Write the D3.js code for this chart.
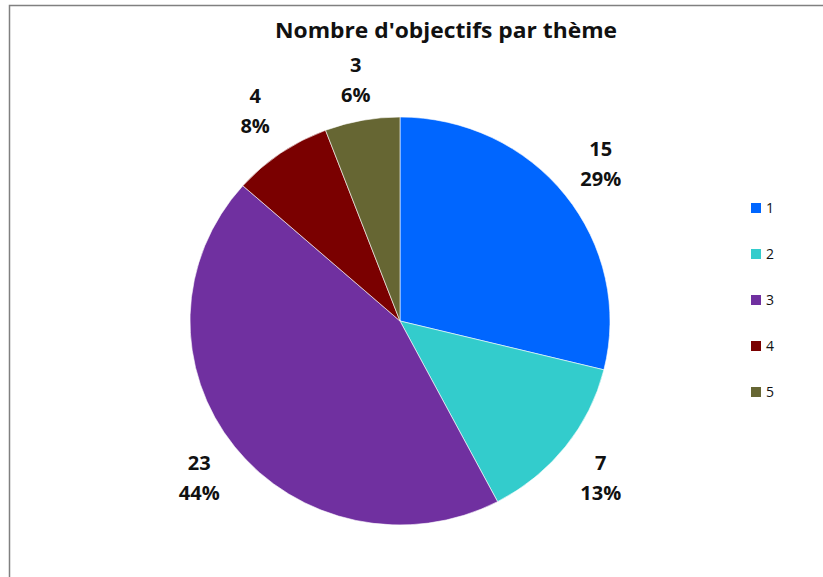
<!DOCTYPE html>
<html>
<head>
<meta charset="utf-8">
<script src="https://cdn.jsdelivr.net/npm/d3@7"></script>
<style>
  body { margin: 0; background: #fff; }
  text { font-family: "Open Sans", "Noto Sans", sans-serif; }
</style>
</head>
<body>
<svg id="chartSvg" width="823" height="577"></svg>
<script>
// Chart data
const themes = ["1", "2", "3", "4", "5"];
const counts = [15, 7, 23, 4, 3];
const colors = ["#0066ff", "#33cccc", "#7030a0", "#7a0000", "#666633"];

const svg = d3.select("#chartSvg");

// Outer frame
svg.append("rect")
    .attr("x", 9.5).attr("y", 5.5)
    .attr("width", 830).attr("height", 600)
    .attr("fill", "none")
    .attr("stroke", "#808080")
    .attr("stroke-width", 1.5);

// Title
svg.append("text")
    .attr("x", 446).attr("y", 38)
    .attr("text-anchor", "middle")
    .attr("font-size", "21px")
    .attr("font-weight", "bold")
    .attr("fill", "#111")
    .attr("textLength", 342)
    .attr("lengthAdjust", "spacingAndGlyphs")
    .text("Nombre d'objectifs par thème");

const total = d3.sum(counts);
const cx = 400, cy = 321, r = 210;

const pie = d3.pie().sort(null).value(d => d.value);
const arcs = pie(themes.map((t, i) => ({ theme: t, value: counts[i], color: colors[i] })));
const arc = d3.arc().innerRadius(0).outerRadius(r);
const labelArc = d3.arc().innerRadius(255).outerRadius(255);
// the label near the top sits a bit closer so it clears the title
const topLabelArc = d3.arc().innerRadius(245).outerRadius(245);

// Pie slightly flattened vertically, like the original
const pieG = svg.append("g")
    .attr("transform", `translate(${cx}, ${cy}) scale(1, ${204 / 210})`);

pieG.selectAll("path")
    .data(arcs)
    .enter()
    .append("path")
    .attr("d", arc)
    .attr("fill", d => d.data.color)
    .attr("stroke", "#fff")
    .attr("stroke-width", 0.6);

// Labels: value and percentage
const labelG = svg.append("g")
    .attr("transform", `translate(${cx}, ${cy})`);

const labels = labelG.selectAll("text")
    .data(arcs)
    .enter()
    .append("text")
    .attr("transform", d => {
        const mid = (d.startAngle + d.endAngle) / 2;
        const a = mid > 5.9 ? topLabelArc : labelArc;
        return "translate(" + a.centroid(d) + ")";
    })
    .attr("text-anchor", "middle")
    .attr("font-size", "20px")
    .attr("font-weight", "bold")
    .attr("fill", "#111");

labels.append("tspan")
    .attr("x", 0).attr("dy", "-0.4em")
    .text(d => d.data.value);
labels.append("tspan")
    .attr("x", 0).attr("dy", "1.5em")
    .text(d => Math.round(d.data.value / total * 100) + "%");

// Legend
const legend = svg.append("g")
    .attr("transform", "translate(751, 203)");

const item = legend.selectAll("g")
    .data(themes)
    .enter()
    .append("g")
    .attr("transform", (d, i) => `translate(0, ${i * 46})`);

item.append("rect")
    .attr("width", 10).attr("height", 10)
    .attr("fill", (d, i) => colors[i]);

item.append("text")
    .attr("x", 15).attr("y", 10)
    .attr("font-size", "14px")
    .attr("fill", "#111")
    .text(d => d);
</script>
</body>
</html>
